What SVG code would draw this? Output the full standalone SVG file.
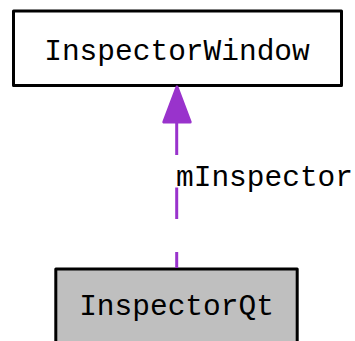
<svg xmlns="http://www.w3.org/2000/svg" width="355" height="341" viewBox="0 0 355 341">
<style>
.box{stroke:#000;stroke-width:3;stroke-linejoin:round}
.lbl{font-family:"Liberation Mono","Courier New",monospace;font-size:29.5px;fill:#000}
.edge{stroke:#9933cc;stroke-width:3;fill:none;stroke-dasharray:32,32}
</style>
<rect width="355" height="341" fill="#fff"/>
<g id="node-InspectorWindow">
<rect class="box" x="13.5" y="11" width="328" height="74.5" fill="#fff"/>
<text class="lbl" x="177" y="60" text-anchor="middle">InspectorWindow</text>
</g>
<g id="node-InspectorQt">
<rect class="box" x="55.8" y="269" width="241.4" height="90" fill="#bfbfbf"/>
<text class="lbl" x="176.5" y="315" text-anchor="middle">InspectorQt</text>
</g>
<g id="connectors">
<path class="edge" d="M176.7,123 V155 M176.7,187.5 V219 M176.7,252 V268"/>
<polygon points="177,87 163.8,122 190.2,122" fill="#9933cc" stroke="#9933cc" stroke-width="3" stroke-linejoin="round"/>
<text class="lbl" x="176" y="186">mInspector</text>
</g>
</svg>
